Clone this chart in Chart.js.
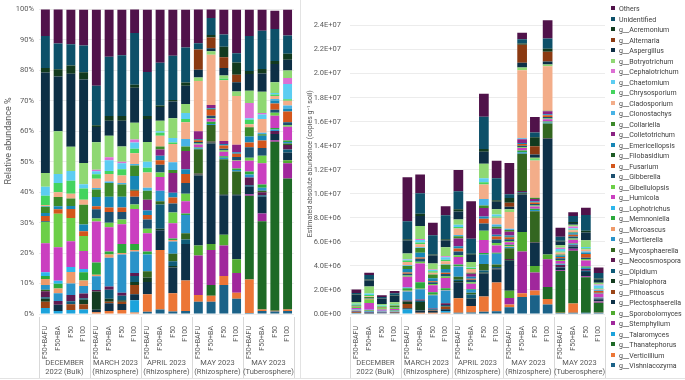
<!DOCTYPE html>
<html>
<head>
<meta charset="utf-8">
<script src="https://cdn.jsdelivr.net/npm/chart.js@4.4.1/dist/chart.umd.min.js"></script>
<style>
  body { margin: 0; width: 685px; height: 380px; background: #fff; position: relative; overflow: hidden; font-family: Roboto, "Open Sans", sans-serif; }
  #leftPane { position: absolute; left: 0; top: 0; width: 300px; height: 380px; }
  #rightPane { position: absolute; left: 300px; top: 0; width: 385px; height: 380px; }
  #divider { position: absolute; left: 300px; top: 0; width: 1px; height: 379px; background: #e3e3e3; }
  #bottomLine { position: absolute; left: 0; top: 378px; width: 685px; height: 1px; background: #e3e3e3; }
  #legend { position: absolute; left: 611px; top: 4px; font-size: 7px; color: #404040; }
  #legend .item { height: 10.5px; line-height: 10.5px; white-space: nowrap; }
  #legend .sw { display: inline-block; width: 4px; height: 4px; margin-right: 4px; vertical-align: 1px; }
</style>
</head>
<body>
<div id="leftPane"><canvas id="relChart" width="300" height="380"></canvas></div>
<div id="rightPane"><canvas id="absChart" width="385" height="380"></canvas></div>
<div id="divider"></div>
<div id="bottomLine"></div>
<div id="legend"></div>
<script>
// categories (one bar each) and the group labels under them
const categories = ['F50+BAFU', 'F50+BA', 'F50', 'F100', 'F50+BAFU', 'F50+BA', 'F50', 'F100',
  'F50+BAFU', 'F50+BA', 'F50', 'F100', 'F50+BAFU', 'F50+BA', 'F50', 'F100',
  'F50+BAFU', 'F50+BA', 'F50', 'F100'];
const groups = [['DECEMBER', '2022 (Bulk)'], ['MARCH 2023', '(Rhizosphere)'], ['APRIL 2023', '(Rhizosphere)'],
  ['MAY 2023', '(Rhizosphere)'], ['MAY 2023', '(Tuberosphere)']];

// legend order (top of stack first)
const genera = ['Others', 'Unidentified', 'g__Acremonium', 'g__Alternaria', 'g__Aspergillus', 'g__Botryotrichum',
  'g__Cephalotrichum', 'g__Chaetomium', 'g__Chrysosporium', 'g__Cladosporium', 'g__Clonostachys', 'g__Collariella',
  'g__Colletotrichum', 'g__Emericellopsis', 'g__Filobasidium', 'g__Fusarium', 'g__Gibberella', 'g__Gibellulopsis',
  'g__Humicola', 'g__Lophotrichus', 'g__Memnoniella', 'g__Microascus', 'g__Mortierella', 'g__Mycosphaerella',
  'g__Neocosmospora', 'g__Olpidium', 'g__Phialophora', 'g__Pithoascus', 'g__Plectosphaerella', 'g__Sporobolomyces',
  'g__Stemphylium', 'g__Talaromyces', 'g__Thanatephorus', 'g__Verticillium', 'g__Vishniacozyma'];
const colors = ['#50124a', '#0d5069', '#123a1f', '#8b3a12', '#0d2f45', '#8fd873',
  '#dd6fd4', '#5ccdf2', '#44d45e', '#f3ad89', '#48b3e6', '#3c8a2a',
  '#8b2283', '#1786b6', '#1d5a25', '#d3561c', '#1c5070', '#6ccf48',
  '#ca3fc0', '#2db6ec', '#2ca93c', '#ef9a6a', '#2a93c9', '#336620',
  '#5e1a52', '#0f5b78', '#143c20', '#9b4416', '#0e3148', '#50ab30',
  '#a0279c', '#1ca3dc', '#1e6a26', '#ec7636', '#1b6288'];

// relative abundance, %
const relOthers = [9, 11.5, 11.4, 11.8, 25, 15.5, 15, 8, 20.5, 17.5, 15.2, 12.5, 11.3, 3.2, 8.2, 14.4, 8.7, 7, 6, 8.5];
const relUnidentified = [10.5, 8.4, 7, 8.8, 13, 19.5, 20, 17, 14.5, 14, 14.5, 11.5, 2, 5.6, 4, 3, 11.5, 12.5, 10.5, 6];
const relAcremonium = [1.5, 2.4, 2.7, 2.4, 0.6, 1.5, 1.5, 1, 1, 0.5, 0.5, 1, 0, 0.8, 3.5, 4, 1, 1.5, 1, 2];
const relAlternaria = [0, 0, 0, 0, 0, 0, 0, 0, 0, 0, 0, 0, 6.7, 3.5, 3.5, 2.5, 0, 0, 0, 0];
const relAspergillus = [33, 18, 24, 27.4, 5, 5, 8.5, 11.5, 7.5, 4.5, 5.5, 6, 2.5, 1, 2.5, 3, 5.5, 6, 6, 3.5];
const relBotryotrichum = [4.5, 14, 7.9, 7, 9, 7, 5, 5.5, 6.5, 3.5, 6.5, 3, 1.2, 1.2, 1, 1.5, 4, 7, 3.5, 2.5];
const relCephalotrichum = [0, 0, 0, 0, 0.5, 1, 0.5, 1, 0, 0, 0, 0, 0, 0, 0, 0, 5, 0.5, 0, 2];
const relChaetomium = [3, 3, 3.2, 1.4, 1, 3.5, 2, 2, 2, 0.5, 1.5, 2, 0, 0, 0, 0, 0.5, 1.5, 0.5, 5];
const relChrysosporium = [3, 3, 4.3, 3.7, 1.5, 1, 2, 1.5, 1.5, 1, 0.5, 1, 0, 0, 0.5, 0, 1.5, 0, 0.5, 0.5];
const relCladosporium = [0.3, 1.6, 1.6, 1.6, 3, 2.5, 2.5, 3.5, 5, 3.5, 6, 5.5, 16.5, 16.5, 20, 16, 1, 4.5, 1, 1.5];
const relClonostachys = [0.3, 0, 0, 0, 0.5, 0.5, 0.5, 0.5, 1, 0, 2.5, 2.5, 0, 0, 0, 0, 0, 0.5, 0.5, 1];
const relCollariella = [2, 3, 2.4, 6.5, 2.5, 4.5, 4, 3.5, 3, 1, 1, 1.5, 0, 0, 0, 0, 3, 0.5, 0, 0];
const relColletotrichum = [0, 0, 0, 0, 0, 0, 0, 0, 3.5, 2, 6.5, 6, 2.5, 1, 1, 2.5, 0, 0, 0, 0];
const relEmericellopsis = [1, 1, 1, 2.2, 3, 3.5, 3.5, 4.5, 1.5, 1.5, 1.5, 1.5, 0.3, 0.3, 0.5, 0.5, 2, 1.5, 1, 1];
const relFilobasidium = [0, 0, 0, 0, 0, 0, 0, 0.3, 0, 0, 0, 0, 0.2, 0.2, 0, 0, 0, 0, 0, 0];
const relFusarium = [1.7, 1.5, 3, 1.6, 1, 1.5, 1.5, 2, 1.5, 1.5, 2, 3, 0.5, 2, 1, 1, 1.5, 2.5, 2, 3.5];
const relGibberella = [0.3, 0, 0, 0, 3, 3.5, 2.5, 2.5, 3, 2.5, 3, 3.5, 0.5, 0.7, 0.5, 1, 3.5, 2.5, 1, 1];
const relGibellulopsis = [7, 11, 7.6, 4.9, 1, 1.5, 1.5, 1.5, 1.5, 1.5, 3.5, 2.5, 0.3, 0.3, 0.5, 0.3, 1, 2.5, 1, 0.5];
const relHumicola = [9.5, 11, 8.5, 5.9, 13.5, 8, 6.5, 11.5, 6, 4.5, 5, 4, 1, 1, 1.5, 2.5, 3.5, 7, 4, 4.5];
const relLophotrichus = [1.2, 1, 1.6, 1.1, 0, 0, 0, 0, 0, 0, 0, 0, 0, 0, 0, 0, 0, 0, 0, 0];
const relMemnoniella = [1, 1.5, 0, 2.7, 4, 1, 3, 2, 1, 0, 0.5, 0.5, 0.3, 0.7, 0.5, 0.5, 1, 1, 0.5, 0.5];
const relMicroascus = [2, 1.6, 3.8, 1.8, 0.5, 1, 0.5, 0.5, 0, 0, 0.5, 0, 0, 0, 0, 0, 0, 0, 0, 0];
const relMortierella = [1.5, 2.5, 3.8, 2.5, 4.5, 9.5, 12.5, 7, 5.5, 3.5, 4, 6, 0.3, 0.3, 0.5, 0.5, 1, 1, 0.5, 0.5];
const relMycosphaerella = [0.5, 0, 0, 0, 0, 0, 0, 0, 2, 1, 2.5, 2, 8, 5.5, 11.5, 7.5, 0, 0.5, 0, 0.5];
const relNeocosmospora = [2, 1.3, 2, 1.5, 0.5, 1, 1, 1, 0, 0, 0, 0, 0.3, 0.3, 0, 0, 2.5, 1, 1, 1.5];
const relOlpidium = [0.5, 0, 1, 0.5, 0, 3, 1.5, 2, 0, 8, 1.5, 1.5, 0, 0, 0, 0, 0.5, 0.5, 0, 1];
const relPhialophora = [1, 0, 0, 1.5, 6, 1, 0.5, 1, 1.5, 0.5, 0.5, 0, 0.3, 0.3, 0.3, 0.3, 0, 0, 0, 0];
const relPithoascus = [2, 0, 1.9, 1.7, 0, 0.5, 0.7, 3, 0, 0, 0, 0, 0, 0, 0, 0, 0, 0, 0, 0];
const relPlectosphaerella = [0, 2, 0, 0, 0.8, 2.5, 2, 2, 4, 6.5, 8.5, 12, 23, 33, 13, 21, 2.5, 5.5, 2, 2.5];
const relSporobolomyces = [0, 0, 0, 0, 0, 0, 0, 0, 0, 0, 0, 0, 3.3, 2, 3.5, 4.5, 0, 0, 0, 1];
const relStemphylium = [0, 0, 0, 0, 0, 0, 0, 0, 0, 0, 0, 0, 13, 11.5, 10, 6.5, 0.5, 2.5, 0.5, 5];
const relTalaromyces = [2, 1, 1.3, 1.5, 0, 0, 0, 4, 0, 0, 0, 0, 0, 0, 0, 0, 0, 0, 0, 0];
const relThanatephorus = [0, 0, 0, 0, 0, 0, 0, 0, 0, 0, 0, 0, 0, 3.5, 0, 0, 27.5, 29, 55.5, 43];
const relVerticillium = [0, 0, 0, 0, 0.6, 1, 1.3, 0.5, 5.8, 19.5, 6, 10, 2.2, 2, 3, 2, 11, 0.5, 0.3, 0.5];
const relVishniacozyma = [0, 0, 0, 0, 0, 0, 0, 0, 0.7, 1.5, 0.8, 1, 4, 4, 9.5, 5, 0.3, 1, 0.8, 1];

// estimated absolute abundance, millions of copies per g soil
const absOthers = [0.3, 0.2, 0.14, 0.2, 3.65, 1.55, 1.04, 0.75, 1.75, 3.1, 1.9, 1.45, 2.6, 0.55, 1.3, 1.5, 0.75, 0.3, 0.6, 0.46];
const absUnidentified = [0.1, 0.38, 0.1, 0.15, 1.5, 1.7, 1.6, 2.0, 1.5, 1.25, 2.7, 1.84, 0.3, 0.35, 0.38, 0.87, 0.33, 0.5, 1.3, 0.46];
const absAcremonium = [0.04, 0.08, 0.04, 0.05, 0.1, 0.2, 0.1, 0.1, 0.2, 0.1, 0.22, 0.12, 0.4, 0.1, 0.76, 0.25, 0.06, 0.08, 0.15, 0.1];
const absAlternaria = [0, 0, 0, 0, 0, 0, 0, 0, 0, 0, 0, 0, 0.33, 1.5, 0.68, 0.8, 0, 0, 0, 0];
const absAspergillus = [0.6, 0.5, 0.45, 0.55, 1.08, 0.82, 0.65, 0.55, 0.65, 0.6, 1.0, 0.62, 0.22, 0.4, 0.28, 0.25, 0.33, 0.15, 0.65, 0.25];
const absBotryotrichum = [0.15, 0.58, 0.13, 0.14, 0.46, 1.1, 0.5, 0.75, 0.45, 0.45, 1.2, 0.45, 0.22, 0.22, 0.12, 0.15, 0.2, 0.15, 0.55, 0.15];
const absCephalotrichum = [0, 0, 0, 0, 0.05, 0.08, 0.04, 0.08, 0, 0, 0, 0, 0, 0, 0, 0, 0.1, 0.15, 0, 0.08];
const absChaetomium = [0.06, 0.12, 0.05, 0.03, 0.08, 0.2, 0.12, 0.22, 0.18, 0.05, 0.33, 0.15, 0, 0, 0, 0, 0.2, 0.1, 0.12, 0.25];
const absChrysosporium = [0.06, 0.1, 0.06, 0.07, 0.12, 0.15, 0.12, 0.12, 0.12, 0.08, 0.2, 0.12, 0, 0, 0.1, 0, 0.1, 0.06, 0.1, 0.03];
const absCladosporium = [0, 0.06, 0.02, 0.03, 0.28, 0.25, 0.15, 0.25, 0.55, 0.3, 1.2, 0.55, 1.4, 5.65, 3.1, 3.7, 0.15, 0.15, 0.15, 0.08];
const absClonostachys = [0, 0, 0, 0, 0.05, 0.05, 0, 0.05, 0.1, 0, 0.55, 0.2, 0.1, 0.1, 0, 0, 0, 0.05, 0.1, 0.05];
const absCollariella = [0.05, 0.12, 0.04, 0.12, 0.25, 0.4, 0.3, 0.35, 0.18, 0.1, 0.2, 0.15, 0.15, 0, 0.1, 0.05, 0.1, 0.06, 0, 0];
const absColletotrichum = [0, 0, 0, 0, 0, 0, 0, 0, 0.65, 0.25, 0.7, 0.5, 0.3, 0.3, 0.2, 0.25, 0, 0, 0, 0];
const absEmericellopsis = [0.03, 0.04, 0.02, 0.04, 0.3, 0.4, 0.25, 0.3, 0.2, 0.15, 0.2, 0.15, 0.12, 0.08, 0.1, 0.08, 0.12, 0.12, 0.12, 0.05];
const absFilobasidium = [0, 0, 0, 0, 0, 0, 0, 0, 0, 0, 0, 0, 0.05, 0, 0, 0, 0, 0, 0, 0];
const absFusarium = [0.04, 0.05, 0.04, 0.03, 0.1, 0.1, 0.08, 0.12, 0.25, 0.1, 0.4, 0.25, 0.15, 0.15, 0.12, 0.15, 0.1, 0.15, 0.3, 0.15];
const absGibberella = [0, 0, 0, 0, 0.15, 0.25, 0.15, 0.2, 0.3, 0.2, 0.6, 0.3, 0.15, 0.12, 0.12, 0.12, 0.15, 0.15, 0.12, 0.05];
const absGibellulopsis = [0.12, 0.3, 0.1, 0.09, 0.1, 0.15, 0.1, 0.12, 0.15, 0.12, 0.76, 0.2, 0.1, 0.08, 0.08, 0.05, 0.08, 0.12, 0.12, 0.03];
const absHumicola = [0.12, 0.55, 0.1, 0.1, 0.9, 1.55, 0.6, 0.85, 0.62, 0.45, 1.08, 0.6, 0.2, 0.2, 0.2, 0.2, 0.22, 0.3, 0.5, 0.3];
const absLophotrichus = [0.03, 0.03, 0.02, 0.02, 0.05, 0, 0, 0, 0, 0, 0, 0, 0, 0, 0, 0, 0, 0, 0, 0];
const absMemnoniella = [0.03, 0.05, 0, 0.05, 0.22, 0.55, 0.2, 0.15, 0.12, 0.05, 0.12, 0.08, 0.15, 0.15, 0.1, 0.08, 0.06, 0.06, 0.1, 0.03];
const absMicroascus = [0.05, 0.06, 0.05, 0.04, 0.05, 0.05, 0.05, 0.05, 0.05, 0, 0, 0, 0.05, 0, 0, 0, 0, 0, 0, 0];
const absMortierella = [0.05, 0.08, 0.06, 0.05, 0.75, 0.85, 1.1, 1.05, 0.85, 0.25, 0.8, 0.9, 0.1, 0.12, 0.1, 0.08, 0.06, 0.06, 0.1, 0.03];
const absMycosphaerella = [0, 0, 0, 0, 0, 0, 0, 0, 0.25, 0.15, 0.55, 0.2, 0.9, 3.1, 2.55, 1.2, 0, 0, 0, 0];
const absNeocosmospora = [0.04, 0.04, 0.03, 0.03, 0.1, 0.1, 0.05, 0.15, 0, 0, 0, 0, 0.08, 0.1, 0.05, 0.05, 0.15, 0.08, 0.15, 0.05];
const absOlpidium = [0, 0, 0.02, 0, 0, 0.1, 0.1, 0.1, 0.1, 0.3, 0.15, 0.15, 0, 0.08, 0, 0, 0.05, 0.05, 0.1, 0.05];
const absPhialophora = [0.03, 0, 0, 0.03, 0.2, 0.7, 0, 0.05, 0.1, 0.05, 0.1, 0, 0.05, 0.1, 0.05, 0.05, 0, 0, 0, 0];
const absPithoascus = [0.05, 0, 0.03, 0.03, 0.35, 0, 0.05, 0.2, 0, 0, 0, 0.05, 0, 0, 0, 0, 0, 0, 0, 0];
const absPlectosphaerella = [0, 0.06, 0, 0, 0.1, 0.2, 0.15, 0.15, 1.35, 0.6, 1.9, 1.1, 2.5, 3.12, 1.9, 9.6, 0.22, 0.2, 0.35, 0.15];
const absSporobolomyces = [0, 0, 0, 0, 0, 0, 0, 0, 0, 0, 0, 0, 0.6, 1.63, 0.55, 0.4, 0, 0, 0, 0.03];
const absStemphylium = [0, 0, 0, 0, 0, 0, 0, 0, 0, 0, 0, 0, 0.55, 3.47, 1.5, 2.3, 0.08, 0.15, 0.1, 0.1];
const absTalaromyces = [0.03, 0, 0.02, 0.03, 0.33, 0, 0, 0.15, 0, 0, 0, 0, 0, 0, 0, 0, 0, 0, 0, 0];
const absThanatephorus = [0, 0, 0, 0, 0, 0, 0, 0, 0, 0, 0, 0, 0, 0, 0, 1.0, 3.47, 4.4, 2.95, 0.82];
const absVerticillium = [0, 0, 0, 0, 0, 0.05, 0.05, 0.1, 1.2, 0.55, 1.27, 2.4, 0.22, 0.32, 0.4, 0.45, 0.02, 0.77, 0, 0.02];
const absVishniacozyma = [0.06, 0.04, 0.04, 0.04, 0.05, 0.05, 0.05, 0, 0.1, 0.12, 0.19, 0.22, 0.57, 1.41, 1.55, 0.8, 0.08, 0.1, 0.1, 0.1];

const yTicksRel = [0, 10, 20, 30, 40, 50, 60, 70, 80, 90, 100];
const yTicksAbs = [0, 2, 4, 6, 8, 10, 12, 14, 16, 18, 20, 22, 24];

const relSeries = [relOthers, relUnidentified, relAcremonium, relAlternaria, relAspergillus, relBotryotrichum,
  relCephalotrichum, relChaetomium, relChrysosporium, relCladosporium, relClonostachys, relCollariella,
  relColletotrichum, relEmericellopsis, relFilobasidium, relFusarium, relGibberella, relGibellulopsis,
  relHumicola, relLophotrichus, relMemnoniella, relMicroascus, relMortierella, relMycosphaerella,
  relNeocosmospora, relOlpidium, relPhialophora, relPithoascus, relPlectosphaerella, relSporobolomyces,
  relStemphylium, relTalaromyces, relThanatephorus, relVerticillium, relVishniacozyma];
const absSeries = [absOthers, absUnidentified, absAcremonium, absAlternaria, absAspergillus, absBotryotrichum,
  absCephalotrichum, absChaetomium, absChrysosporium, absCladosporium, absClonostachys, absCollariella,
  absColletotrichum, absEmericellopsis, absFilobasidium, absFusarium, absGibberella, absGibellulopsis,
  absHumicola, absLophotrichus, absMemnoniella, absMicroascus, absMortierella, absMycosphaerella,
  absNeocosmospora, absOlpidium, absPhialophora, absPithoascus, absPlectosphaerella, absSporobolomyces,
  absStemphylium, absTalaromyces, absThanatephorus, absVerticillium, absVishniacozyma];

const FONT = 'Roboto, "Open Sans", sans-serif';
const TEXT = '#595959';

// bottom of the stack is the last legend entry, so datasets go in reverse
function makeDatasets(series) {
  return genera.map((name, i) => ({
    label: name,
    data: series[i],
    backgroundColor: colors[i],
    borderWidth: 0
  })).reverse();
}

// sci label like 2.4E+07
function sciLabel(millions) {
  const v = millions * 1e6;
  if (v === 0) return '0.0E+00';
  const exp = Math.floor(Math.log10(v) + 1e-9);
  const mant = v / Math.pow(10, exp);
  return mant.toFixed(1) + 'E+' + String(exp).padStart(2, '0');
}

// second level of the category axis: group names and separator lines
const groupLabels = {
  id: 'groupLabels',
  afterDraw(chart) {
    const { ctx, chartArea } = chart;
    const x = chart.scales.x;
    const step = x.getPixelForValue(1) - x.getPixelForValue(0);
    ctx.save();
    ctx.strokeStyle = '#d9d9d9';
    ctx.lineWidth = 1;
    for (let g = 0; g <= groups.length; g++) {
      const px = Math.round(x.getPixelForValue(g * 4) - step / 2) + 0.5;
      ctx.beginPath();
      ctx.moveTo(px, chartArea.bottom + 3);
      ctx.lineTo(px, chart.height - 2);
      ctx.stroke();
    }
    ctx.fillStyle = TEXT;
    ctx.font = '7.5px ' + FONT;
    ctx.textAlign = 'center';
    ctx.textBaseline = 'middle';
    groups.forEach((lines, g) => {
      const cx = (x.getPixelForValue(g * 4) + x.getPixelForValue(g * 4 + 3)) / 2;
      ctx.fillText(lines[0], cx, 363);
      ctx.fillText(lines[1], cx, 372);
    });
    ctx.restore();
  }
};

// left axis title sits a bit above the middle in the reference
const leftTitle = {
  id: 'leftTitle',
  afterDraw(chart) {
    const { ctx } = chart;
    ctx.save();
    ctx.translate(9, 141);
    ctx.rotate(-Math.PI / 2);
    ctx.fillStyle = TEXT;
    ctx.font = '9px ' + FONT;
    ctx.textAlign = 'center';
    ctx.textBaseline = 'middle';
    ctx.fillText('Relative abundance %', 0, 0);
    ctx.restore();
  }
};

function xScale() {
  return {
    stacked: true,
    grid: { display: false },
    border: { display: false },
    ticks: { autoSkip: false, maxRotation: 90, minRotation: 90, padding: 4, color: TEXT, font: { family: FONT, size: 7 } },
    afterFit: s => { s.height = 66; }
  };
}

// left: relative abundance
new Chart(document.getElementById('relChart'), {
  type: 'bar',
  data: { labels: categories, datasets: makeDatasets(relSeries) },
  options: {
    responsive: false,
    animation: false,
    layout: { padding: { top: 6, right: 1, left: 0, bottom: 0 } },
    plugins: { legend: { display: false }, tooltip: { enabled: false } },
    datasets: { bar: { barPercentage: 0.7, categoryPercentage: 1 } },
    scales: {
      x: xScale(),
      y: {
        stacked: true, min: 0, max: 100,
        afterBuildTicks: s => { s.ticks = yTicksRel.map(v => ({ value: v })); },
        ticks: { padding: 5, color: TEXT, font: { family: FONT, size: 7.5 }, callback: v => v + '%' },
        grid: { color: '#ececec', drawTicks: false },
        border: { display: false },
        afterFit: s => { s.width = 39; }
      }
    }
  },
  plugins: [groupLabels, leftTitle]
});

// right: estimated absolute abundance
new Chart(document.getElementById('absChart'), {
  type: 'bar',
  data: { labels: categories, datasets: makeDatasets(absSeries) },
  options: {
    responsive: false,
    animation: false,
    layout: { padding: { top: 7, right: 80, left: 0, bottom: 0 } },
    plugins: { legend: { display: false }, tooltip: { enabled: false } },
    datasets: { bar: { barPercentage: 0.76, categoryPercentage: 1 } },
    scales: {
      x: xScale(),
      y: {
        stacked: true, min: 0, max: 25,
        afterBuildTicks: s => { s.ticks = yTicksAbs.map(v => ({ value: v })); },
        ticks: { padding: 9, color: TEXT, font: { family: FONT, size: 7.5 }, callback: v => sciLabel(v) },
        grid: { color: '#ececec', drawTicks: false },
        border: { display: false },
        title: { display: true, text: 'Estimated absolute abundance (copies g⁻¹ soil)', color: TEXT, font: { family: FONT, size: 7 }, padding: { top: 6, bottom: 2 } },
        afterFit: s => { s.width = 50; }
      }
    }
  },
  plugins: [groupLabels]
});

// legend, same order as the reference
const legendBox = document.getElementById('legend');
genera.forEach((name, i) => {
  const row = document.createElement('div');
  row.className = 'item';
  const sw = document.createElement('span');
  sw.className = 'sw';
  sw.style.background = colors[i];
  row.appendChild(sw);
  row.appendChild(document.createTextNode(name));
  legendBox.appendChild(row);
});
</script>
</body>
</html>
